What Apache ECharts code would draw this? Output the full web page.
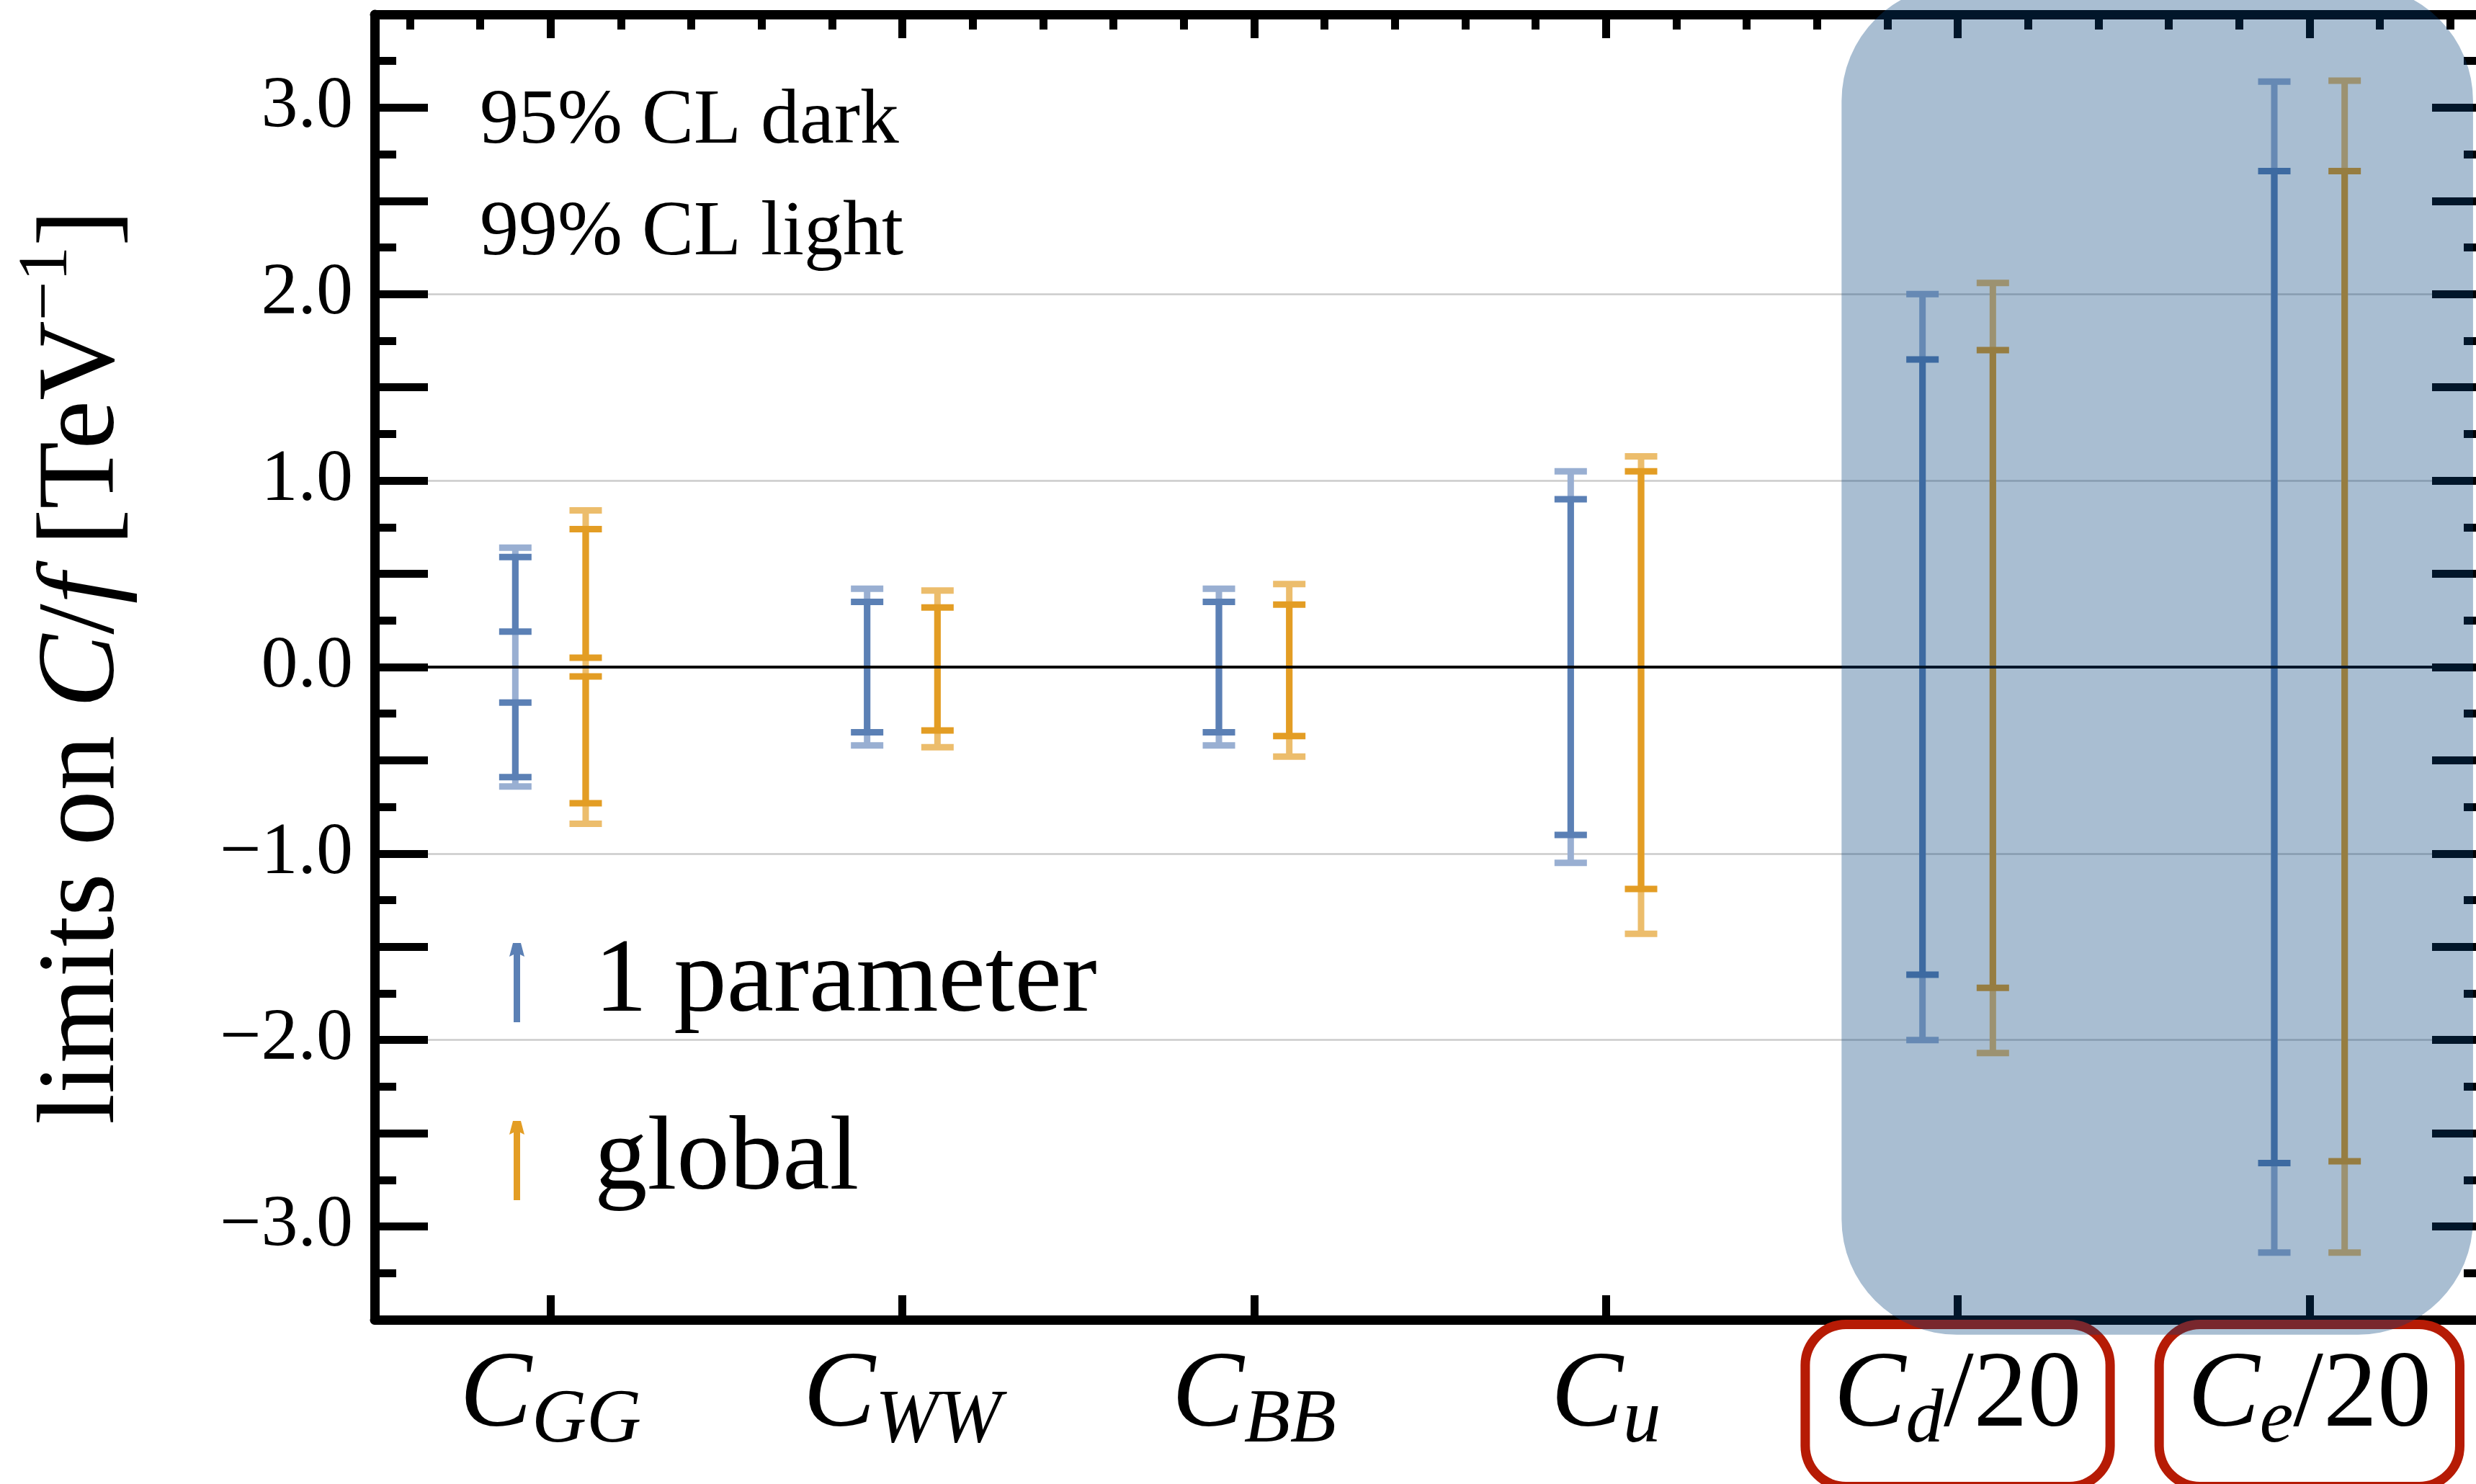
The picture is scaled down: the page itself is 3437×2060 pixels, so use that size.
<!DOCTYPE html>
<html>
<head>
<meta charset="utf-8">
<script src="https://cdn.jsdelivr.net/npm/echarts@6/dist/echarts.min.js"></script>
<style>
html,body{margin:0;padding:0;background:#fff;}
#chart{width:3437px;height:2060px;}
</style>
</head>
<body>
<div id="chart"></div>
<script>
// ---------- data ----------
const categories = ['C_GG', 'C_WW', 'C_BB', 'C_u', 'C_d/20', 'C_e/20'];
const boxedCategories = ['C_d/20', 'C_e/20'];

// 1 parameter fit
const onePar99Low  = [-0.64, -0.42, -0.42, -1.05, -2.00, -3.14];
const onePar99High = [ 0.64,  0.42,  0.42,  1.05,  2.00,  3.14];
const onePar95 = [
  [[0.19, 0.59], [-0.59, -0.19]],
  [[-0.35, 0.35]],
  [[-0.35, 0.35]],
  [[-0.90, 0.90]],
  [[-1.65, 1.65]],
  [[-2.66, 2.66]]
];

// global fit
const global99Low  = [-0.84, -0.43, -0.48, -1.43, -2.07, -3.14];
const global99High = [ 0.84,  0.41,  0.445, 1.13,  2.06,  3.145];
const global95 = [
  [[0.05, 0.74], [-0.73, -0.05]],
  [[-0.34, 0.32]],
  [[-0.37, 0.335]],
  [[-1.19, 1.05]],
  [[-1.72, 1.70]],
  [[-2.65, 2.66]]
];

const yTickValues = [-3, -2, -1, 0, 1, 2, 3];
const gridValues = [-2, -1, 1, 2];
const legendNames = ['1 parameter', 'global'];
const cornerNotes = ['95% CL dark', '99% CL light'];

// shaded region (category units / value units)
const shadeX = [3.67, 5.465];
const shadeY = [-3.58, 3.655];

// ---------- style ----------
const FONT = 'Liberation Serif';
const BLUE = '#5b80b5';
const BLUE_LIGHT = '#99afd2';
const ORANGE = '#e39d24';
const ORANGE_LIGHT = '#ecbd6c';
const BOX_RED = '#b61b05';
const LW = 9, CAP = 45, CT = 9;

function barRenderer(lo99, hi99, ints95, offset, dark, light) {
  return function (params, api) {
    const i = api.value(0);
    const band = api.size([1, 0])[0];
    const x = api.coord([i, 0])[0] + offset * band;
    const children = [];
    const vline = (a, b, color) => {
      const y1 = api.coord([i, b])[1], y2 = api.coord([i, a])[1];
      children.push({type: 'rect', shape: {x: x - LW / 2, y: y1, width: LW, height: y2 - y1}, style: {fill: color}});
    };
    const cap = (v, color) => {
      const y = api.coord([i, v])[1];
      children.push({type: 'rect', shape: {x: x - CAP / 2, y: y - CT / 2, width: CAP, height: CT}, style: {fill: color}});
    };
    vline(lo99[i], hi99[i], light);
    cap(lo99[i], light); cap(hi99[i], light);
    ints95[i].forEach(function (iv) {
      vline(iv[0], iv[1], dark);
      cap(iv[0], dark); cap(iv[1], dark);
    });
    return {type: 'group', children: children};
  };
}

function catLabel(v) {
  const m = /^C_([A-Za-z]+)(\/20)?$/.exec(v);
  if (!m) return v;
  return '{c|C}{s|' + m[1] + '}' + (m[2] ? '{n|/20}' : '');
}

function yLabel(v) {
  if (yTickValues.indexOf(v) < 0) return '';
  return v.toFixed(1).replace('-', '\u2212');
}

const topSlots = [];
for (let k = 0; k < categories.length * 5; k++) topSlots.push('t' + k);

const ARROW = 'path://M5,0 L16,0 L21,19 L15,16 L15,110 L6,110 L6,16 L0,19 Z';

const yAxisBase = {
  type: 'value', min: -3.5, max: 3.5, interval: 0.5, z: 3,
  axisLine: {show: true, onZero: false, lineStyle: {color: '#000', width: 13}},
  axisTick: {show: true, inside: true, length: 74, lineStyle: {color: '#000', width: 11}},
  minorTick: {show: true, splitNumber: 2, length: 30, lineStyle: {color: '#000', width: 11}},
  splitLine: {show: false},
  minorSplitLine: {show: false}
};

const option = {
  animation: false,
  backgroundColor: '#fff',
  grid: {left: 520, top: 20, width: 2930, height: 1812, outerBoundsMode: 'none', containLabel: false},
  title: {
    text: cornerNotes.join('\n'), left: 666, top: 92, padding: 0,
    textStyle: {fontFamily: FONT, fontSize: 108, fontWeight: 'normal', lineHeight: 155, color: '#000'}
  },
  legend: {
    orient: 'vertical', left: 707, top: 1269, padding: 0, itemGap: 57,
    itemWidth: 21, itemHeight: 110, icon: ARROW, selectedMode: false,
    textStyle: {fontFamily: FONT, fontSize: 147, color: '#000', lineHeight: 150, padding: [0, 0, 40, 92]},
    data: [
      {name: legendNames[0], itemStyle: {color: BLUE}},
      {name: legendNames[1], itemStyle: {color: ORANGE}}
    ]
  },
  xAxis: [
    {
      type: 'category', position: 'bottom', boundaryGap: true, z: 3,
      data: categories.map(function (c) {
        return boxedCategories.indexOf(c) >= 0
          ? {value: c, textStyle: {borderColor: BOX_RED, borderWidth: 13, borderRadius: 50, backgroundColor: '#fff'}}
          : c;
      }),
      axisLine: {show: true, onZero: false, lineStyle: {color: '#000', width: 13}},
      axisTick: {show: true, inside: true, alignWithLabel: true, interval: 0, length: 34, lineStyle: {color: '#000', width: 11}},
      axisLabel: {
        show: true, interval: 0, margin: 13, padding: [15, 33, 37, 33], color: '#000',
        formatter: catLabel,
        rich: {
          c: {fontFamily: FONT, fontSize: 150, fontStyle: 'italic', lineHeight: 160, color: '#000'},
          s: {fontFamily: FONT, fontSize: 105, fontStyle: 'italic', lineHeight: 160, padding: [67, 0, 0, 0], color: '#000'},
          n: {fontFamily: FONT, fontSize: 150, lineHeight: 160, color: '#000'}
        }
      },
      splitLine: {show: false}
    },
    {
      type: 'category', position: 'top', boundaryGap: true, data: topSlots, z: 3,
      axisLine: {show: true, onZero: false, lineStyle: {color: '#000', width: 13}},
      axisTick: {show: true, inside: true, alignWithLabel: true, interval: 0, length: 21, lineStyle: {color: '#000', width: 11}},
      axisLabel: {show: false}, splitLine: {show: false}
    },
    {
      type: 'category', position: 'top', boundaryGap: true, data: topSlots, z: 3,
      axisLine: {show: false, onZero: false},
      axisTick: {show: true, inside: true, alignWithLabel: true,
        interval: function (idx) { return idx % 5 === 2; },
        length: 33, lineStyle: {color: '#000', width: 11}},
      axisLabel: {show: false}, splitLine: {show: false}
    }
  ],
  yAxis: [
    Object.assign({}, yAxisBase, {
      position: 'left',
      axisLabel: {show: true, formatter: yLabel, fontFamily: FONT, fontSize: 102, color: '#000', margin: 30},
      name: '{n|limits on }{i|C}{n|/}{i|f}{n| [TeV}{sup|\u22121}{n|]}',
      nameLocation: 'middle', nameRotate: 90, nameGap: 323,
      nameTextStyle: {
        color: '#000',
        rich: {
          n: {fontFamily: FONT, fontSize: 153, lineHeight: 160, color: '#000'},
          i: {fontFamily: FONT, fontSize: 153, fontStyle: 'italic', lineHeight: 160, color: '#000'},
          sup: {fontFamily: FONT, fontSize: 97, lineHeight: 160, padding: [0, 0, 100, 0], color: '#000'}
        }
      }
    }),
    Object.assign({}, yAxisBase, {position: 'right', axisLabel: {show: false}})
  ],
  series: [
    {
      name: 'grid', type: 'line', data: [], z: 1, silent: true,
      markLine: {
        z: 1, silent: true, symbol: 'none', label: {show: false},
        lineStyle: {color: '#cbcbcb', width: 2.5, type: 'solid'},
        data: gridValues.map(function (v) { return {yAxis: v}; })
      }
    },
    {
      name: legendNames[0], type: 'custom', z: 5, itemStyle: {color: BLUE},
      data: categories.map(function (c, i) { return [i, 0]; }),
      renderItem: barRenderer(onePar99Low, onePar99High, onePar95, -0.1, BLUE, BLUE_LIGHT)
    },
    {
      name: legendNames[1], type: 'custom', z: 5, itemStyle: {color: ORANGE},
      data: categories.map(function (c, i) { return [i, 0]; }),
      renderItem: barRenderer(global99Low, global99High, global95, 0.1, ORANGE, ORANGE_LIGHT)
    },
    {
      name: 'zero', type: 'line', data: [], z: 6, silent: true,
      markLine: {
        z: 6, silent: true, symbol: 'none', label: {show: false},
        lineStyle: {color: '#000', width: 4, type: 'solid'},
        data: [{yAxis: 0}]
      }
    },
    {
      name: 'shade', type: 'custom', z: 10, silent: true,
      data: [[0, 0]],
      renderItem: function (params, api) {
        const band = api.size([1, 0])[0];
        const x0 = api.coord([0, 0])[0];
        const xl = x0 + shadeX[0] * band, xr = x0 + shadeX[1] * band;
        const yt = api.coord([0, shadeY[1]])[1], yb = api.coord([0, shadeY[0]])[1];
        return {type: 'rect', shape: {x: xl, y: yt, width: xr - xl, height: yb - yt, r: 160},
                style: {fill: 'rgba(3,65,122,0.34)'}};
      }
    }
  ]
};

const chart = echarts.init(document.getElementById('chart'), null, {renderer: 'canvas'});
chart.setOption(option);
</script>
</body>
</html>
